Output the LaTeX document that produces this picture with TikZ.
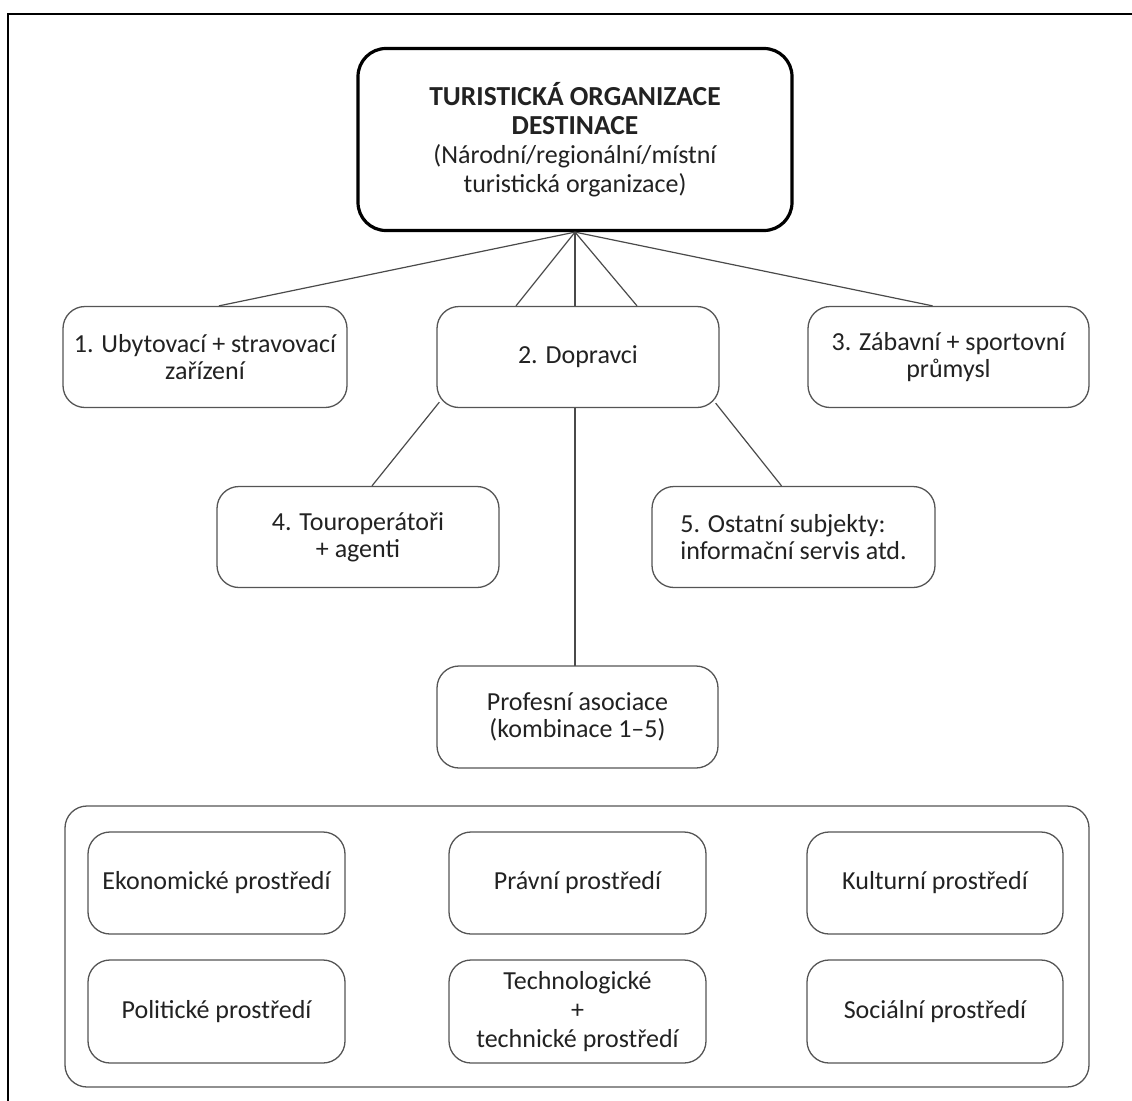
\documentclass[tikz,border=0pt]{standalone}
\usepackage{fontspec}
\setmainfont{Carlito}
\usetikzlibrary{calc}
\definecolor{txt}{HTML}{222222}
\definecolor{ln}{HTML}{4A4A4A}
\definecolor{bx}{HTML}{555555}
\begin{document}
\begin{tikzpicture}[x=1pt,y=-1pt,
  box/.style={draw=bx, line width=1.3pt, rounded corners=22pt, fill=white, align=center,
    minimum width=281pt, minimum height=101pt, inner sep=0pt, text=txt,
    font=\fontsize{26}{27}\selectfont},
  envbox/.style={box, minimum width=257pt, minimum height=102pt},
  topbox/.style={draw=black, line width=3.2pt, rounded corners=28pt, fill=white, align=center,
    minimum width=434pt, minimum height=182pt, inner sep=0pt, text=txt,
    font=\fontsize{26}{29}\selectfont},
  conn/.style={draw=ln, line width=1.2pt}
]
\useasboundingbox (0,0) rectangle (1132,1100);
\draw[line width=2.2pt, line cap=rect] (8,1100) -- (8,14) -- (1132,14);

% connectors first (boxes drawn above them)
\coordinate (hub) at (575,231);
\coordinate (vbot) at (575,667);
\draw[conn] (hub) -- (vbot);

\node[topbox] (top) at (575,139.5) {{\fontsize{27.5}{29}\selectfont\bfseries TURISTICKÁ ORGANIZACE}\\{\fontsize{27.5}{29}\selectfont\bfseries DESTINACE}\\(Národní/regionální/místní\\turistická organizace)};

\node[box, minimum width=284pt] (b1) at (205,357) {1. Ubytovací + stravovací\\zařízení};
\node[box, minimum width=282pt] (b2) at (578,357) {2. Dopravci};
\node[box] (b3) at (948.5,357) {3. Zábavní + sportovní\\průmysl};
\node[box, minimum width=282pt] (b4) at (358,537) {4. Touroperátoři\\+ agenti};
\node[box, minimum width=283pt, align=left] (b5) at (793.5,537) {5. Ostatní subjekty:\\informační servis atd.};
\node[box, minimum height=102pt] (pa) at (577.5,717) {Profesní asociace\\(kombinace 1–5)};

\draw[conn] (top.south) -- ([xshift=14pt]b1.north);
\draw[conn] (top.south) -- ([xshift=-62pt]b2.north);
\draw[conn] (top.south) -- ([xshift=59pt]b2.north);
\draw[conn] (top.south) -- ([xshift=-16pt]b3.north);
\draw[conn] ($(b2.south west)+(3,-6)$) -- ([xshift=14pt]b4.north);
\draw[conn] ($(b2.south east)+(-4,-5)$) -- ([xshift=-12pt]b5.north);

\node[draw=bx, line width=1.3pt, rounded corners=22pt, minimum width=1024pt, minimum height=281pt, inner sep=0pt] (env) at (577,946.5) {};

\node[envbox] (e1) at (216.5,883) {Ekonomické prostředí};
\node[envbox] (e2) at (577.5,883) {Právní prostředí};
\node[envbox, minimum width=256pt] (e3) at (935,883) {Kulturní prostředí};
\node[envbox, minimum height=103pt] (e4) at (216.5,1011.5) {Politické prostředí};
\node[envbox, minimum height=103pt, font=\fontsize{26}{29}\selectfont] (e5) at (577.5,1011.5) {Technologické\\+\\technické prostředí};
\node[envbox, minimum width=256pt, minimum height=103pt] (e6) at (935,1011.5) {Sociální prostředí};
\end{tikzpicture}
\end{document}
